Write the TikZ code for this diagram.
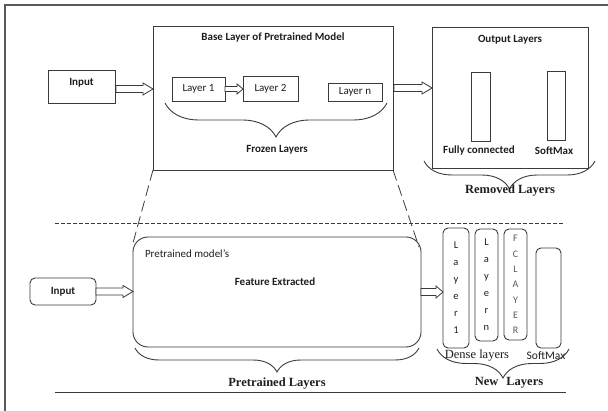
\documentclass[tikz,border=0pt]{standalone}
\usepackage{fontspec}
\setmainfont{Carlito}
\newfontfamily\serifface{Liberation Serif}
\usetikzlibrary{decorations.pathreplacing,calc}
\definecolor{ln}{HTML}{3A3A3A}
\definecolor{fr}{HTML}{5A5A5A}
\definecolor{tx}{HTML}{1E1E1E}
% hollow block arrow: #1 start, #2 tip, #3 shaft half height, #4 head half height, #5 head length
\newcommand\blkarrow[5]{%
  \draw[draw=ln,line width=0.8pt,fill=white,line join=miter]
    ($#1+(0,#3)$) -- ($#2+(-#5,#3)$) -- ($#2+(-#5,#4)$) -- #2
    -- ($#2+(-#5,-#4)$) -- ($#2+(-#5,-#3)$) -- ($#1+(0,-#3)$) -- cycle;}
\begin{document}
\begin{tikzpicture}[x=1pt,y=-1pt,
  every node/.style={inner sep=0pt,outer sep=0pt,text=tx,font=\fontsize{11}{13}\selectfont},
  box/.style={draw=ln,line width=0.9pt},
  rbox/.style={draw=ln,line width=0.9pt,rounded corners=5pt},
  lbl/.style={font=\fontsize{11}{13}\selectfont\bfseries},
  sublbl/.style={font=\fontsize{11}{13}\selectfont},
  serlbl/.style={font=\fontsize{12.5}{14}\selectfont\serifface\bfseries},
  bracestyle/.style={draw=ln,line width=0.9pt,decorate,decoration={brace,mirror,amplitude=#1}},
  vtext/.style={align=center,font=\fontsize{10.5}{17}\selectfont},
  vtextb/.style={align=center,font=\fontsize{10}{15.3}\selectfont,text=tx!75},
  diag/.style={draw=ln,line width=0.8pt,dash pattern=on 11pt off 5pt},
  hdash/.style={draw=ln,line width=0.8pt,dash pattern=on 4pt off 2pt}
]
\useasboundingbox (0,0) rectangle (608,411);
% outer frame
\draw[draw=fr,line width=1.6pt] (608,5) -- (5,5) -- (5,411);

% ---- top part ----
\node[box,minimum width=67pt,minimum height=33pt] (in1) at (81.5,86.5) {};
\node[lbl] (in1t) at (81.5,83) {Input};
\node[box,minimum width=240pt,minimum height=144pt] (base) at (273,98) {};
\node[lbl] (basett) at (273,38) {Base Layer of Pretrained Model};
\node[box,minimum width=53pt,minimum height=24pt,sublbl] (l1) at (198.5,89) {Layer 1};
\node[box,minimum width=55pt,minimum height=25pt,sublbl] (l2) at (270.5,88.5) {Layer 2};
\node[box,minimum width=54pt,minimum height=18pt,sublbl] (lnn) at (355,92) {Layer n};
\coordinate (s1) at (l1.east);
\coordinate (t1) at (l2.west |- l1.east);
\blkarrow{(s1)}{(t1)}{2.5}{5}{6}
\coordinate (fzl) at (165,103);
\coordinate (fzr) at (387,103);
\draw[bracestyle=34pt] (fzl) -- (fzr);
\node[lbl] (frozen) at (277,150) {Frozen Layers};
\coordinate (a1) at (116,89);
\coordinate (a1t) at (a1 -| base.west);
\blkarrow{(a1)}{(a1t)}{3.5}{6}{10}

\node[box,minimum width=156pt,minimum height=141pt] (out) at (510,97.5) {};
\node[lbl] (outtt) at (510,40) {Output Layers};
\node[box,minimum width=19pt,minimum height=69pt] (fc) at (480.5,106.5) {};
\node[box,minimum width=18pt,minimum height=69pt] (sm) at (556,105.5) {};
\node[lbl] (fclbl) at (479,151) {Fully connected};
\node[lbl] (smlbl) at (554,151) {SoftMax};
\coordinate (a2) at (394,88);
\coordinate (a2t) at (a2 -| out.west);
\blkarrow{(a2)}{(a2t)}{3.5}{6}{10}
\coordinate (rml) at (424,161);
\coordinate (rmr) at (595,161);
\draw[bracestyle=28pt] (rml) -- (rmr);
\node[serlbl] (removed) at (510,191) {Removed Layers};

% ---- separator ----
\coordinate (hd1) at (55,223);
\coordinate (hd2) at (564,223);
\draw[hdash] (hd1) -- (hd2);

% ---- bottom part ----
\node[rbox,rounded corners=15pt,minimum width=288pt,minimum height=110pt] (pre) at (277,292) {};
\node[sublbl,anchor=west] (premod) at (145,254) {Pretrained model's};
\node[lbl] (feat) at (275,282) {Feature Extracted};
\coordinate (dl) at (133,243);
\coordinate (dr) at (419,247);
\draw[diag] (base.south west) -- (dl);
\draw[diag] (base.south east) -- (dr);

\node[rbox,minimum width=66pt,minimum height=27pt,lbl] (in2) at (63,291.5) {Input};
\coordinate (a3) at (in2.east);
\coordinate (a3t) at (pre.west |- in2.east);
\blkarrow{(a3)}{(a3t)}{3.5}{6}{10}

\node[rbox,minimum width=26pt,minimum height=120pt,vtext] (nl1) at (456,288) {L\\a\\y\\e\\r\\1};
\node[rbox,minimum width=23pt,minimum height=112pt,vtext] (nl2) at (486.5,285) {L\\a\\y\\e\\r\\n};
\node[rbox,minimum width=23pt,minimum height=111pt,vtextb] (nl3) at (515.5,284.5) {F\\C\\L\\A\\Y\\E\\R};
\node[rbox,minimum width=25pt,minimum height=100pt] (nl4) at (548.5,298) {};
\coordinate (a4) at (pre.east);
\coordinate (a4t) at (nl1.west |- pre.east);
\blkarrow{(a4)}{(a4t)}{3.5}{6}{7}

\node[font=\fontsize{12.5}{14}\selectfont\serifface] (dense) at (477,356) {Dense layers};
\node[font=\fontsize{11.5}{13}\selectfont] (smx) at (546,356) {SoftMax};

\coordinate (nwl) at (437,349);
\coordinate (nwr) at (569,349);
\draw[bracestyle=29pt] (nwl) -- (nwr);
\node[serlbl] (newl) at (509,383) {New\hspace{8pt}Layers};

\coordinate (ptl) at (135,348);
\coordinate (ptr) at (419,348);
\draw[bracestyle=24pt] (ptl) -- (ptr);
\node[serlbl] (pretl) at (277,384) {Pretrained Layers};

\coordinate (bl1) at (55,393);
\coordinate (bl2) at (566,393);
\draw[draw=ln,line width=1pt] (bl1) -- (bl2);
\end{tikzpicture}
\end{document}
